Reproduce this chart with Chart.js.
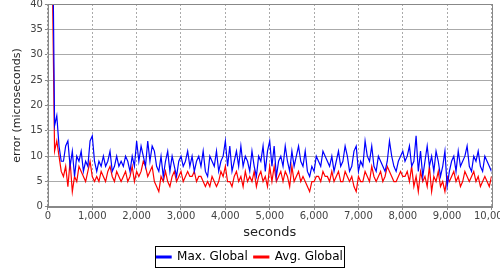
<!DOCTYPE html>
<html>
<head>
<meta charset="utf-8">
<script src="https://cdn.jsdelivr.net/npm/chart.js@4"></script>
<style>
  html, body { margin: 0; padding: 0; background: #fff; overflow: hidden; }
  #wrap { position: relative; width: 500px; height: 270px; overflow: hidden; }
  #myChart { position: absolute; left: 0; top: -4px; }
</style>
</head>
<body>
<div id="wrap"><canvas id="myChart" width="510" height="277"></canvas></div>
<script>
// samples every 50 s, starting at 100 s
const startSecond = 100;
const stepSeconds = 50;

const maxGlobal = [
  60,16,18,12,9,9,12,13,8,11,6,10,9,11,7,9,8,13,14,9,
  7,9,8,10,8,9,11,7,8,10,8,9,8,10,9,7,10,8,13,9,
  12,10,8,13,9,12,11,8,7,10,6,9,11,7,10,8,6,9,10,8,
  9,11,8,10,7,9,10,8,11,7,6,10,9,8,11,7,9,10,13,8,
  12,7,9,11,8,12,8,10,9,7,11,8,6,10,9,12,7,11,13,8,
  12,6,9,10,8,12,9,7,11,8,10,12,9,8,11,7,6,8,7,10,
  9,8,11,10,9,8,10,7,9,11,8,9,12,10,7,8,11,12,7,9,
  8,13,10,9,12,8,7,10,9,8,7,9,13,10,8,7,9,10,11,9,
  10,12,8,9,14,7,11,6,9,12,8,10,7,11,9,6,8,11,4,7,
  9,10,7,11,8,9,10,12,8,7,10,9,11,8,7,10,9,8,7
];

const avgGlobal = [
  45,11,13,10,7,6,8,4,9,3,6,5,8,7,6,5,7,9,6,5,
  6,5,7,6,5,7,8,6,5,7,6,5,6,7,5,6,8,5,7,6,
  7,9,8,6,7,8,5,4,3,6,5,7,5,4,6,7,5,6,7,5,
  6,7,6,6,7,5,6,6,5,4,5,4,6,5,4,5,7,6,8,5,
  5,4,6,7,5,6,4,7,5,6,5,7,4,6,7,5,6,4,8,5,
  8,5,6,7,5,7,6,4,8,5,6,7,5,6,5,4,3,5,5,6,
  6,5,7,6,6,5,7,5,6,7,5,5,7,6,5,6,4,3,6,5,
  5,7,6,5,8,6,5,6,7,5,6,8,7,6,5,5,6,7,6,6,
  7,5,8,4,6,3,7,5,6,4,8,3,6,5,7,4,5,3,6,5,
  6,7,5,6,4,5,7,6,5,6,7,5,6,4,5,6,5,4,6
];

const seriesNames = ['Max. Global', 'Avg. Global'];
const yTicks = [0, 5, 10, 15, 20, 25, 30, 35, 40];
const xTicks = [0, 1000, 2000, 3000, 4000, 5000, 6000, 7000, 8000, 9000, 10000];

const toPoints = (vals) => vals.map((v, i) => ({ x: startSecond + i * stepSeconds, y: v }));

const FONT = '"DejaVu Sans", sans-serif';

// outline round the plot, a box round the legend, legend centred on the page not the canvas
const framePlugin = {
  id: 'frame',
  afterLayout(chart) {
    const lg = chart.legend;
    lg.left -= 10;
    lg.right -= 10;
  },
  afterDraw(chart) {
    const ctx = chart.ctx;
    const a = chart.chartArea;
    ctx.save();
    ctx.strokeStyle = '#888';
    ctx.lineWidth = 1;
    ctx.strokeRect(Math.round(a.left) + 0.5, Math.round(a.top) + 0.5,
      Math.round(a.right - a.left), Math.round(a.bottom - a.top));
    const boxes = chart.legend.legendHitBoxes;
    if (boxes && boxes.length) {
      let l = Infinity, r = -Infinity, t = Infinity, b = -Infinity;
      boxes.forEach(h => {
        l = Math.min(l, h.left); r = Math.max(r, h.left + h.width);
        t = Math.min(t, h.top); b = Math.max(b, h.top + h.height);
      });
      const cx = (l + r) / 2;
      const cy = (t + b) / 2;
      ctx.strokeStyle = '#000';
      ctx.strokeRect(Math.round(cx - 95) + 0.5, Math.round(cy - 11) + 0.5, 189, 21);
    }
    ctx.restore();
  }
};

const ctx = document.getElementById('myChart').getContext('2d');
new Chart(ctx, {
  type: 'line',
  data: {
    datasets: [
      {
        label: seriesNames[0],
        data: toPoints(maxGlobal),
        borderColor: '#0000ff',
        backgroundColor: '#0000ff',
        borderWidth: 1.2,
        pointRadius: 0,
        tension: 0
      },
      {
        label: seriesNames[1],
        data: toPoints(avgGlobal),
        borderColor: '#ff0000',
        backgroundColor: '#ff0000',
        borderWidth: 1.2,
        pointRadius: 0,
        tension: 0
      }
    ]
  },
  options: {
    responsive: false,
    animation: false,
    layout: { padding: { top: 0, left: 9, right: 0, bottom: 0 } },
    plugins: {
      tooltip: { enabled: false },
      legend: {
        position: 'bottom',
        labels: {
          font: { family: FONT, size: 12 },
          color: '#000',
          boxWidth: 15,
          boxHeight: 2,
          padding: 6
        }
      }
    },
    scales: {
      x: {
        type: 'linear',
        min: 0,
        max: 10000,
        afterBuildTicks: (axis) => { axis.ticks = xTicks.map(v => ({ value: v })); },
        ticks: {
          font: { family: FONT, size: 10 },
          color: '#444',
          maxRotation: 0,
          padding: 1
        },
        grid: {
          color: '#aaa',
          borderDash: [2, 2],
          tickBorderDash: [],
          tickColor: '#888',
          tickLength: 3
        },
        border: { color: '#888', dash: [2, 2] },
        title: {
          display: true,
          text: 'seconds',
          font: { family: FONT, size: 13 },
          color: '#222',
          padding: { top: 1, bottom: 4.5 }
        }
      },
      y: {
        min: 0,
        max: 40,
        afterBuildTicks: (axis) => { axis.ticks = yTicks.map(v => ({ value: v })); },
        ticks: {
          font: { family: FONT, size: 10 },
          color: '#444',
          padding: 2
        },
        grid: {
          color: '#aaa',
          borderDash: [2, 2],
          tickBorderDash: [],
          tickColor: '#888',
          tickLength: 3
        },
        title: {
          display: true,
          text: 'error (microseconds)',
          font: { family: FONT, size: 11 },
          color: '#222',
          padding: { top: 2, bottom: 4 }
        }
      }
    }
  },
  plugins: [framePlugin]
});
</script>
</body>
</html>
